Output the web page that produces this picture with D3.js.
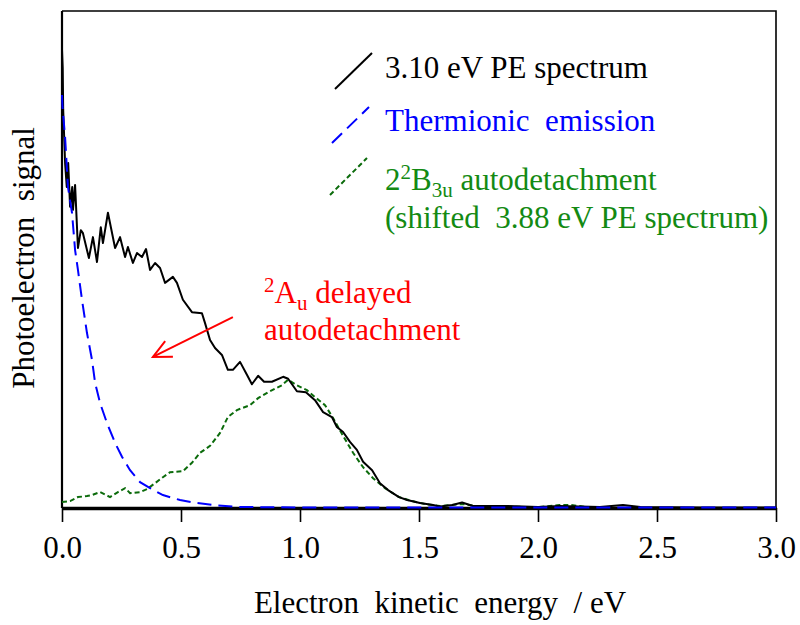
<!DOCTYPE html>
<html>
<head>
<meta charset="utf-8">
<script src="https://cdn.jsdelivr.net/npm/d3@7"></script>
<style>
  html, body { margin: 0; padding: 0; background: #fff; }
  svg { display: block; }
</style>
</head>
<body>
<div id="chart"></div>
<script>
// ---- data (energy in eV, signal in arbitrary units) ----
const peEnergy = [0,0.003,0.005,0.013,0.020,0.026,0.034,0.043,0.046,0.055,0.067,0.079,0.088,0.113,0.130,0.147,0.163,0.172,0.193,0.223,0.244,0.265,0.277,0.298,0.315,0.336,0.353,0.370,0.391,0.412,0.433,0.466,0.483,0.508,0.546,0.588,0.601,0.622,0.643,0.672,0.697,0.718,0.748,0.777,0.798,0.824,0.849,0.882,0.929,0.950,0.987,1.025,1.063,1.097,1.134,1.155,1.181,1.210,1.239,1.265,1.303,1.336,1.370,1.416,1.450,1.504,1.559,1.588,1.640,1.681,1.727,1.800,1.870,2.000,2.090,2.260,2.357,2.430,2.680,3.000];
const peSignal = [0.922,0.885,0.801,0.694,0.646,0.694,0.606,0.646,0.600,0.650,0.523,0.559,0.553,0.503,0.545,0.495,0.565,0.533,0.594,0.523,0.545,0.505,0.525,0.493,0.513,0.505,0.521,0.479,0.493,0.483,0.453,0.465,0.453,0.419,0.394,0.392,0.372,0.338,0.322,0.308,0.278,0.278,0.294,0.268,0.249,0.266,0.254,0.254,0.264,0.260,0.235,0.233,0.217,0.193,0.183,0.163,0.153,0.133,0.117,0.093,0.076,0.050,0.036,0.022,0.016,0.010,0.006,0.003,0.006,0.011,0.004,0.004,0.004,0.002,0.004,0.002,0.006,0.002,0.001,0.001];

const teEnergy = [0,0.002,0.013,0.025,0.042,0.055,0.067,0.084,0.105,0.126,0.139,0.160,0.189,0.223,0.252,0.286,0.328,0.370,0.424,0.496,0.567,0.634,0.748,1.000,2.000,3.000];
const teSignal = [0.831,0.807,0.746,0.646,0.594,0.519,0.479,0.419,0.352,0.298,0.252,0.211,0.171,0.131,0.103,0.076,0.052,0.040,0.026,0.016,0.010,0.006,0.002,0.001,0.001,0.001];

const adEnergy = [0,0.034,0.067,0.105,0.126,0.160,0.202,0.235,0.265,0.286,0.328,0.357,0.391,0.424,0.454,0.508,0.546,0.580,0.622,0.664,0.697,0.735,0.790,0.824,0.866,0.924,0.950,0.987,1.029,1.063,1.105,1.139,1.181,1.223,1.265,1.307,1.357,1.416,1.471,1.525,1.588,1.681,1.756,2.000,2.090,2.140,2.220];
const adSignal = [0.012,0.014,0.022,0.024,0.026,0.032,0.022,0.032,0.040,0.030,0.032,0.038,0.050,0.062,0.072,0.074,0.091,0.111,0.125,0.151,0.183,0.197,0.207,0.221,0.233,0.247,0.258,0.247,0.237,0.223,0.207,0.181,0.145,0.111,0.082,0.060,0.040,0.022,0.014,0.008,0.004,0.008,0.003,0.002,0.006,0.006,0.001];

const xTicks = [0.0, 0.5, 1.0, 1.5, 2.0, 2.5, 3.0];

// annotation arrow: [energy, signal] of tail and head
const arrowTail = [0.718, 0.384];
const arrowHead = [0.382, 0.304];

// ---- layout ----
const W = 800, H = 625;
const m = { left: 62, right: 776, top: 11, bottom: 508 };
const FONT = "Liberation Serif";
const FS = 31, FSS = 21;
const NB = "\u00A0";

const svg = d3.select("#chart").append("svg").attr("width", W).attr("height", H);

const x = d3.scaleLinear().domain([0, 3]).range([m.left, m.right]);
const y = d3.scaleLinear().domain([0, 1]).range([m.bottom, m.top]);

// frame: top & right
svg.append("path")
  .attr("d", `M${m.left},${m.top}H${m.right}V${m.bottom}`)
  .attr("fill", "none").attr("stroke", "#000").attr("stroke-width", 1.6);

// left axis (no ticks)
svg.append("line")
  .attr("x1", m.left).attr("x2", m.left).attr("y1", m.top).attr("y2", m.bottom)
  .attr("stroke", "#000").attr("stroke-width", 2.2);

// data lines
const line = d3.line().x(d => x(d[0])).y(d => y(d[1]));
const zip = (a, b) => a.map((v, i) => [v, b[i]]);

const g = svg.append("g");
g.append("path").datum(zip(adEnergy, adSignal))
  .attr("d", line).attr("fill", "none").attr("stroke", "#0b6b0b")
  .attr("stroke-width", 2).attr("stroke-dasharray", "5,3");
g.append("path").datum(zip(peEnergy, peSignal))
  .attr("d", line).attr("fill", "none").attr("stroke", "#000")
  .attr("stroke-width", 2).attr("stroke-linejoin", "round");

// bottom axis
const xAxis = d3.axisBottom(x).tickValues(xTicks).tickFormat(d3.format(".1f"))
  .tickSize(14).tickSizeOuter(0).tickPadding(14);
const ax = svg.append("g").attr("transform", `translate(0,${m.bottom})`).call(xAxis)
  .attr("font-family", FONT).attr("font-size", FS);
ax.select(".domain").attr("stroke", "#000").attr("stroke-width", 3.6);
ax.selectAll(".tick line").attr("stroke", "#000").attr("stroke-width", 1.6);
ax.selectAll(".tick text").attr("fill", "#000");

// thermionic emission on top of axis
svg.append("path").datum(zip(teEnergy, teSignal))
  .attr("d", line).attr("fill", "none").attr("stroke", "#0000ff")
  .attr("stroke-width", 2).attr("stroke-dasharray", "14,7");

// helper for text
function txt(sel, xp, yp, s, fill) {
  return sel.append("text").attr("x", xp).attr("y", yp)
    .attr("font-family", FONT).attr("font-size", FS)
    .attr("fill", fill || "#000").text(s);
}

// axis titles
txt(svg, 440, 613, `Electron${NB} kinetic${NB} energy${NB} / eV`).attr("text-anchor", "middle");
svg.append("text").attr("transform", "translate(34,258) rotate(-90)")
  .attr("text-anchor", "middle").attr("font-family", FONT).attr("font-size", FS)
  .text(`Photoelectron${NB} signal`);

// legend
const leg = svg.append("g");
leg.append("line").attr("x1", 335).attr("y1", 89).attr("x2", 372).attr("y2", 53)
  .attr("stroke", "#000").attr("stroke-width", 2);
leg.append("line").attr("x1", 332).attr("y1", 143).attr("x2", 369).attr("y2", 107)
  .attr("stroke", "#0000ff").attr("stroke-width", 2).attr("stroke-dasharray", "14,7");
leg.append("line").attr("x1", 330).attr("y1", 195).attr("x2", 367).attr("y2", 158)
  .attr("stroke", "#0b6b0b").attr("stroke-width", 2).attr("stroke-dasharray", "5,3");

txt(leg, 385, 78, "3.10 eV PE spectrum", "#000");
txt(leg, 385, 131, `Thermionic${NB} emission`, "#0000ff");
const t3 = txt(leg, 385, 190, "", "#138a13");
t3.append("tspan").text("2");
t3.append("tspan").attr("font-size", FSS).attr("dy", -11).text("2");
t3.append("tspan").attr("dy", 11).text("B");
t3.append("tspan").attr("font-size", FSS).attr("dy", 7).text("3u");
t3.append("tspan").attr("dy", -7).text(" autodetachment");
t3.append("tspan").attr("x", 385).attr("dy", 38).text(`(shifted${NB} 3.88 eV PE spectrum)`);

// annotation (one text, two lines)
const a1 = txt(svg, 264, 303, "", "#ff0000");
a1.append("tspan").attr("font-size", FSS).attr("dy", -11).text("2");
a1.append("tspan").attr("dy", 11).text("A");
a1.append("tspan").attr("font-size", FSS).attr("dy", 7).text("u");
a1.append("tspan").attr("dy", -7).text(" delayed");
a1.append("tspan").attr("x", 264).attr("dy", 37).text("autodetachment");

const tx = x(arrowTail[0]), ty = y(arrowTail[1]);
const hx = x(arrowHead[0]), hy = y(arrowHead[1]);
const ang = Math.atan2(ty - hy, tx - hx);
const L = 20, spread = 0.45;
svg.append("line").attr("x1", tx).attr("y1", ty).attr("x2", hx).attr("y2", hy)
  .attr("stroke", "#ff0000").attr("stroke-width", 2);
svg.append("path")
  .attr("d", `M${hx + L * Math.cos(ang + spread)},${hy + L * Math.sin(ang + spread)}L${hx},${hy}L${hx + L * Math.cos(ang - spread)},${hy + L * Math.sin(ang - spread)}`)
  .attr("fill", "none").attr("stroke", "#ff0000").attr("stroke-width", 2);
</script>
</body>
</html>
